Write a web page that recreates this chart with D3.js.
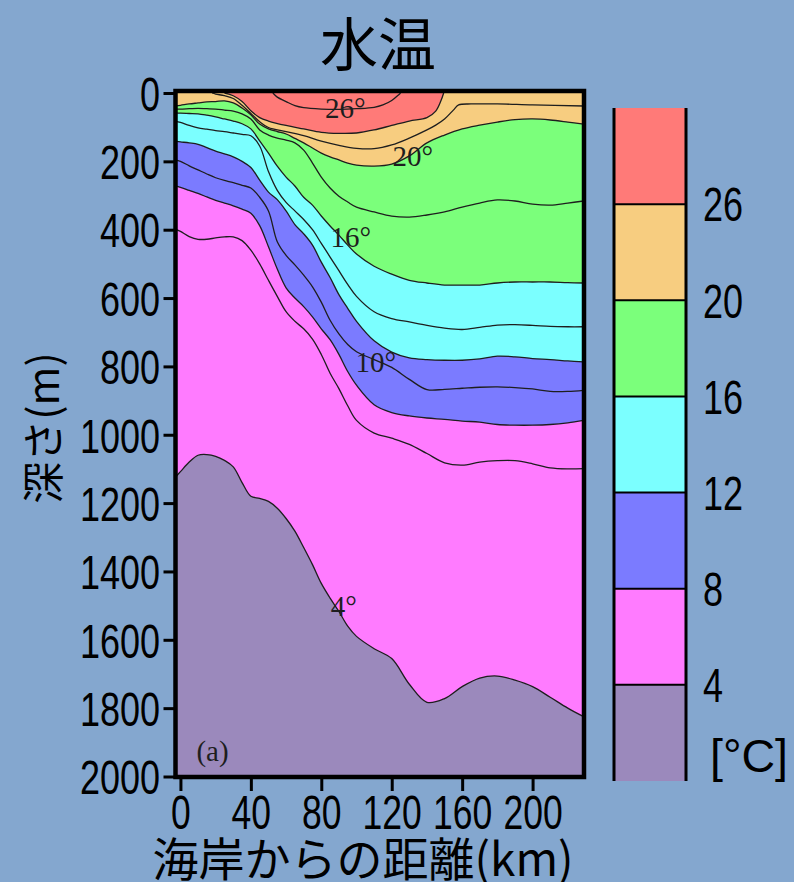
<!DOCTYPE html>
<html lang="ja">
<head>
<meta charset="utf-8">
<title>水温</title>
<script src="https://d3js.org/d3.v7.min.js"></script>
<style>
  body { margin: 0; background: #84a7cf; }
  svg { display: block; }
</style>
</head>
<body>
<svg id="chart" width="794" height="882"></svg>
<script>
// distance from the coast (km) for the full-width isotherms
var distKm = [-3, 0, 5, 10, 15, 20, 25, 30, 35, 40, 45, 50, 55, 60, 65, 70, 75, 80, 85, 90, 95, 100, 110, 120, 130, 140, 150, 160, 170, 180, 190, 200, 210, 220, 229];

// depth (m) of each isotherm
var iso4  = [1125, 1108, 1080, 1060, 1058, 1063, 1075, 1094, 1140, 1180, 1186, 1195, 1215, 1245, 1282, 1330, 1380, 1435, 1478, 1517, 1560, 1590, 1626, 1655, 1730, 1783, 1772, 1737, 1712, 1706, 1718, 1737, 1768, 1800, 1825];
var iso6  = [398, 405, 420, 428, 428, 424, 421, 421, 432, 460, 500, 548, 595, 640, 668, 690, 720, 765, 820, 865, 915, 958, 995, 1010, 1028, 1055, 1082, 1089, 1080, 1076, 1076, 1085, 1097, 1100, 1099];
var iso8  = [272, 276, 285, 294, 304, 314, 322, 330, 340, 352, 388, 450, 515, 570, 600, 625, 655, 690, 722, 765, 815, 855, 912, 935, 945, 951, 955, 960, 963, 970, 972, 972, 970, 965, 958];
var iso10 = [196, 200, 213, 225, 237, 248, 256, 262, 270, 278, 305, 345, 435, 475, 503, 533, 567, 612, 665, 705, 736, 757, 780, 803, 838, 868, 867, 864, 861, 860, 862, 866, 873, 873, 870];
var iso12 = [141, 143, 146, 150, 160, 170, 178, 187, 200, 218, 255, 290, 312, 345, 385, 412, 445, 495, 540, 590, 630, 668, 725, 758, 775, 780, 782, 782, 778, 770, 772, 777, 780, 784, 787];
var iso14 = [82, 86, 95, 102, 106, 110, 113, 117, 121, 125, 155, 230, 285, 320, 345, 370, 400, 440, 480, 520, 560, 595, 640, 660, 670, 680, 688, 692, 686, 679, 678, 680, 683, 684, 684];
var iso16 = [58, 59, 60, 61, 65, 70, 76, 82, 90, 105, 140, 176, 214, 246, 272, 305, 328, 360, 389, 416, 445, 471, 507, 530, 548, 556, 562, 562, 562, 556, 553, 553, 553, 555, 556];
var iso18 = [47, 47, 46, 45, 46, 47, 50, 53, 61, 76, 108, 123, 132, 138, 146, 167, 205, 246, 278, 302, 319, 334, 348, 360, 363, 357, 348, 334, 322, 313, 316, 325, 328, 322, 316];
var iso20 = [38, 36, 32, 29, 26, 25, 23, 29, 44, 64, 91, 105, 113, 120, 133, 146, 161, 176, 187, 196, 205, 211, 214, 208, 184, 146, 123, 105, 94, 85, 78, 76, 79, 85, 91];

// isotherms that reach the surface
var km22  = [18, 20, 25, 30, 35, 40, 45, 50, 60, 70, 80, 90, 100, 110, 120, 130, 140, 145, 150, 155, 158, 165, 180, 200, 229];
var iso22 = [0, 3, 8, 16, 36, 60, 84, 101, 113, 125, 141, 153, 162, 163, 152, 132, 108, 94, 76, 50, 35, 32, 32, 35, 38];
var km24  = [25, 30, 35, 40, 45, 50, 60, 70, 80, 90, 100, 110, 120, 130, 140, 145, 148, 149.5];
var iso24 = [0, 8, 25, 52, 72, 82, 95, 105, 115, 118, 117, 108, 95, 82, 72, 53, 22, 0];
var km26  = [52.5, 55, 60, 65, 70, 80, 90, 100, 110, 115, 120, 124, 125];
var iso26 = [0, 12, 25, 37, 43, 47, 48, 46, 42, 35, 22, 5, 0];

// contour labels
var labelText  = ["26°", "20°", "16°", "10°", "4°", "(a)"];
var labelKm    = [93.7, 132, 96.8, 111, 92.8, 18.2];
var labelDepth = [72, 214, 450, 816, 1529, 1956];

// axes and colour bar
var depthTicks = [0, 200, 400, 600, 800, 1000, 1200, 1400, 1600, 1800, 2000];
var distTicks = [0, 40, 80, 120, 160, 200];
var bandColors = ["#ff7a78", "#f7cd80", "#7bff7b", "#7bffff", "#7b7bff", "#ff7bff", "#9b89bc"];
var bandLabels = ["26", "20", "16", "12", "8", "4"];

var svg = d3.select("#chart");
var x = d3.scaleLinear().domain([-2.8, 229.2]).range([175.5, 584]);
var y = d3.scaleLinear().domain([0, 2000]).range([93, 776.5]);

function pairs(xs, ds) {
    return xs.map(function(k, i) { return [k, ds[i]]; });
}

svg.append("defs").append("clipPath").attr("id", "plotClip")
    .append("rect")
    .attr("x", x(-2.8)).attr("y", 90)
    .attr("width", x(229.2) - x(-2.8))
    .attr("height", 777 - 90);

var plot = svg.append("g").attr("clip-path", "url(#plotClip)");

// coldest water everywhere first, warmer bands painted on top
plot.append("rect")
    .attr("x", x(-2.8)).attr("y", 90)
    .attr("width", x(229.2) - x(-2.8)).attr("height", 690)
    .attr("fill", bandColors[6]);

var curve = d3.curveCatmullRom.alpha(0.5);
var area = d3.area().curve(curve)
    .x(function(d) { return x(d[0]); })
    .y0(y(-30))
    .y1(function(d) { return y(d[1]); });
var line = d3.line().curve(curve)
    .x(function(d) { return x(d[0]); })
    .y(function(d) { return y(d[1]); });

var fills = [
    [distKm, iso4, bandColors[5]],
    [distKm, iso8, bandColors[4]],
    [distKm, iso12, bandColors[3]],
    [distKm, iso16, bandColors[2]],
    [distKm, iso20, bandColors[1]],
    [km24, iso24, bandColors[0]]
];
fills.forEach(function(f) {
    plot.append("path").datum(pairs(f[0], f[1]))
        .attr("d", area).attr("fill", f[2]);
});

var lines = [
    [distKm, iso4], [distKm, iso6], [distKm, iso8], [distKm, iso10],
    [distKm, iso12], [distKm, iso14], [distKm, iso16], [distKm, iso18],
    [distKm, iso20], [km22, iso22], [km24, iso24], [km26, iso26]
];
lines.forEach(function(l) {
    plot.append("path").datum(pairs(l[0], l[1]))
        .attr("d", line)
        .attr("fill", "none")
        .attr("stroke", "#1e1e1e")
        .attr("stroke-width", 1.3);
});

plot.selectAll(".clabel")
    .data(labelText)
    .enter().append("text")
    .attr("class", "clabel")
    .attr("x", function(d, i) { return x(labelKm[i]); })
    .attr("y", function(d, i) { return y(labelDepth[i]); })
    .attr("text-anchor", "middle")
    .attr("font-family", "'Liberation Serif', 'Times New Roman', serif")
    .attr("font-size", 29)
    .attr("fill", "#1e1e1e")
    .text(function(d) { return d; });

// frame
svg.append("rect")
    .attr("x", x(-2.8)).attr("y", 91)
    .attr("width", x(229.2) - x(-2.8)).attr("height", 686)
    .attr("fill", "none")
    .attr("stroke", "#000")
    .attr("stroke-width", 4.5);

var tickFont = "'Liberation Sans', Arial, sans-serif";

var gy = svg.append("g")
    .attr("transform", "translate(" + x(-2.8) + ",0)")
    .call(d3.axisLeft(y).tickValues(depthTicks).tickFormat(d3.format("d"))
        .tickSize(12).tickSizeOuter(0));
gy.select(".domain").remove();
gy.selectAll("line").attr("stroke", "#000").attr("stroke-width", 3);
gy.selectAll("text")
    .attr("font-family", tickFont).attr("font-size", 48).attr("fill", "#000")
    .attr("x", -15.5 / 0.75).attr("dy", "0.36em")
    .attr("transform", "scale(0.75,1)");

var gx = svg.append("g")
    .attr("transform", "translate(0,777)")
    .call(d3.axisBottom(x).tickValues(distTicks).tickFormat(d3.format("d"))
        .tickSize(14).tickSizeOuter(0));
gx.select(".domain").remove();
gx.selectAll("line").attr("stroke", "#000").attr("stroke-width", 3);
gx.selectAll("text")
    .attr("font-family", tickFont).attr("font-size", 48).attr("fill", "#000")
    .attr("y", 18).attr("dy", "0.71em")
    .attr("transform", "scale(0.74,1)");

// colour bar
var cb = d3.scaleLinear().domain([0, 7]).range([108, 781]);
var cbg = svg.append("g");
cbg.selectAll("rect")
    .data(bandColors)
    .enter().append("rect")
    .attr("x", 614).attr("width", 72)
    .attr("y", function(d, i) { return cb(i); })
    .attr("height", cb(1) - cb(0))
    .attr("fill", function(d) { return d; });
cbg.selectAll(".sep")
    .data(bandLabels)
    .enter().append("line")
    .attr("class", "sep")
    .attr("x1", 614).attr("x2", 686)
    .attr("y1", function(d, i) { return cb(i + 1); })
    .attr("y2", function(d, i) { return cb(i + 1); })
    .attr("stroke", "#000").attr("stroke-width", 2);
[614, 686].forEach(function(px) {
    cbg.append("line")
        .attr("x1", px).attr("x2", px)
        .attr("y1", cb(0)).attr("y2", cb(7))
        .attr("stroke", "#000").attr("stroke-width", 3);
});
cbg.selectAll(".cblabel")
    .data(bandLabels)
    .enter().append("text")
    .attr("class", "cblabel")
    .attr("transform", function(d, i) { return "translate(703," + cb(i + 1) + ") scale(0.75,1)"; })
    .attr("dy", "0.36em")
    .attr("font-family", tickFont).attr("font-size", 48).attr("fill", "#000")
    .text(function(d) { return d; });
cbg.append("text")
    .attr("x", 710).attr("y", 772)
    .attr("font-family", tickFont).attr("font-size", 46).attr("fill", "#000")
    .attr("textLength", 78).attr("lengthAdjust", "spacingAndGlyphs")
    .text("[°C]");

// titles
var jpFont = "'Noto Sans CJK JP', 'Noto Sans CJK SC', sans-serif";
svg.append("text")
    .attr("x", 378).attr("y", 66)
    .attr("text-anchor", "middle")
    .attr("font-family", jpFont).attr("font-size", 58)
    .text("水温");

svg.append("text")
    .attr("transform", "translate(40,428) rotate(-90)")
    .attr("text-anchor", "middle").attr("dominant-baseline", "central")
    .attr("font-family", jpFont).attr("font-size", 42)
    .text("深さ(m)");

svg.append("text")
    .attr("x", 363).attr("y", 876)
    .attr("text-anchor", "middle")
    .attr("font-family", jpFont).attr("font-size", 46)
    .text("海岸からの距離(km)");
</script>
</body>
</html>
